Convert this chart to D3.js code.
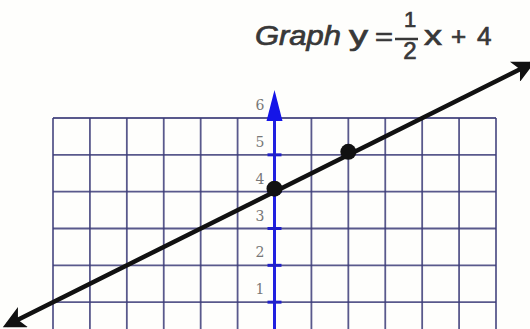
<!DOCTYPE html>
<html>
<head>
<meta charset="utf-8">
<script src="https://cdn.jsdelivr.net/npm/d3@7"></script>
<style>
  body { margin: 0; background: #fff; }
  svg { display: block; }
</style>
</head>
<body>
<div id="chart"></div>
<script>
// DATA
var gridX = [-6, -5, -4, -3, -2, -1, 0, 1, 2, 3, 4, 5, 6];
var gridY = [0, 1, 2, 3, 4, 5, 6];
var yTickValues = [1, 2, 3, 4, 5];
var yTickLabels = ["1", "2", "3", "4", "5", "6"];
var plottedX = [0, 2];
var plottedY = [4, 5];
var lineX = [-7.25, 6.95];
var lineY = [0.375, 7.475];

var w = 530, h = 329;

var svg = d3.select("#chart")
    .append("svg")
    .attr("width", w)
    .attr("height", h);

svg.append("rect")
    .attr("width", w)
    .attr("height", h)
    .attr("fill", "#fefefc");

// scales - grid is 12 squares wide, bottom row runs off the picture
var x = d3.scaleLinear().domain([-6, 6]).range([53, 496]);
var y = d3.scaleLinear().domain([0, 6]).range([339, 118]);

var defs = svg.append("defs");
defs.append("marker")
    .attr("id", "arrow")
    .attr("viewBox", "0 0 10 10")
    .attr("refX", 8)
    .attr("refY", 5)
    .attr("markerWidth", 7.5)
    .attr("markerHeight", 5)
    .attr("markerUnits", "strokeWidth")
    .attr("orient", "auto-start-reverse")
    .append("path")
    .attr("d", "M0,0 L10,5 L0,10 L2.5,5 Z")
    .attr("fill", "#111");

// grid
var grid = svg.append("g");
grid.selectAll(".vline")
    .data(gridX)
    .enter()
    .append("line")
    .attr("class", "vline")
    .attr("x1", d => x(d))
    .attr("x2", d => x(d))
    .attr("y1", y(6))
    .attr("y2", h)
    .attr("stroke", "#3c3c78")
    .attr("stroke-opacity", 0.85)
    .attr("stroke-width", 1.8);

grid.selectAll(".hline")
    .data(gridY)
    .enter()
    .append("line")
    .attr("class", "hline")
    .attr("x1", x(-6))
    .attr("x2", x(6))
    .attr("y1", d => y(d))
    .attr("y2", d => y(d))
    .attr("stroke", "#3c3c78")
    .attr("stroke-opacity", 0.85)
    .attr("stroke-width", 1.8);

// y axis (blue)
var axisG = svg.append("g");
axisG.append("line")
    .attr("x1", x(0))
    .attr("x2", x(0))
    .attr("y1", 110)
    .attr("y2", h)
    .attr("stroke", "#2020e0")
    .attr("stroke-width", 3);

axisG.append("path")
    .attr("d", "M" + x(0) + ",90 L" + (x(0) + 8) + ",121 L" + (x(0) - 8) + ",121 Z")
    .attr("fill", "#1515e8");

axisG.selectAll(".tick")
    .data(yTickValues)
    .enter()
    .append("line")
    .attr("class", "tick")
    .attr("x1", x(0) - 7)
    .attr("x2", x(0) + 7)
    .attr("y1", d => y(d))
    .attr("y2", d => y(d))
    .attr("stroke", "#2020c8")
    .attr("stroke-width", 3);

axisG.selectAll(".lab")
    .data(yTickLabels)
    .enter()
    .append("text")
    .attr("class", "lab")
    .attr("x", x(0) - 19)
    .attr("y", (d, i) => y(i + 1) - 8)
    .attr("font-family", "DejaVu Serif, serif")
    .attr("font-size", 14)
    .attr("fill", "#777")
    .text(d => d);

// the graphed line
svg.append("line")
    .attr("x1", x(lineX[0]))
    .attr("y1", y(lineY[0]))
    .attr("x2", x(lineX[1]))
    .attr("y2", y(lineY[1]))
    .attr("stroke", "#111")
    .attr("stroke-width", 4.5)
    .attr("marker-start", "url(#arrow)")
    .attr("marker-end", "url(#arrow)");

svg.selectAll(".pt")
    .data(plottedX)
    .enter()
    .append("circle")
    .attr("class", "pt")
    .attr("cx", d => x(d))
    .attr("cy", (d, i) => y(plottedY[i]) - 3)
    .attr("r", 8)
    .attr("fill", "#111");

// title
var title = svg.append("g")
    .attr("font-family", "Liberation Sans, Arial, sans-serif")
    .attr("fill", "#383838")
    .attr("stroke", "#383838")
    .attr("stroke-width", 0.7);

title.append("text")
    .attr("x", 255)
    .attr("y", 45)
    .attr("font-size", 27)
    .attr("font-style", "italic")
    .attr("textLength", 86)
    .attr("lengthAdjust", "spacingAndGlyphs")
    .text("Graph");

title.append("text")
    .attr("x", 349)
    .attr("y", 45)
    .attr("font-size", 27)
    .attr("textLength", 19)
    .attr("lengthAdjust", "spacingAndGlyphs")
    .text("y");

title.append("text")
    .attr("x", 375)
    .attr("y", 45)
    .attr("font-size", 26)
    .attr("textLength", 18)
    .attr("lengthAdjust", "spacingAndGlyphs")
    .text("=");

title.append("text")
    .attr("x", 410)
    .attr("y", 27)
    .attr("font-size", 22)
    .attr("text-anchor", "middle")
    .text("1");

title.append("line")
    .attr("x1", 395)
    .attr("x2", 418)
    .attr("y1", 39)
    .attr("y2", 39)
    .attr("stroke-width", 2.5);

title.append("text")
    .attr("x", 410)
    .attr("y", 59)
    .attr("font-size", 24)
    .attr("text-anchor", "middle")
    .text("2");

title.append("text")
    .attr("x", 424)
    .attr("y", 45)
    .attr("font-size", 27)
    .attr("textLength", 18)
    .attr("lengthAdjust", "spacingAndGlyphs")
    .text("x");

title.append("text")
    .attr("x", 451)
    .attr("y", 45)
    .attr("font-size", 26)
    .text("+");

title.append("text")
    .attr("x", 477)
    .attr("y", 45)
    .attr("font-size", 26)
    .text("4");
</script>
</body>
</html>
